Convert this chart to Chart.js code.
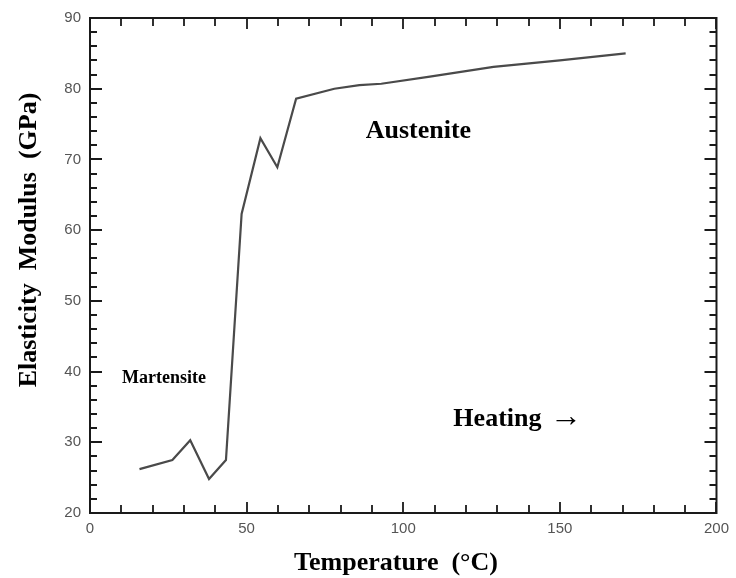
<!DOCTYPE html>
<html>
<head>
<meta charset="utf-8">
<script src="https://cdn.jsdelivr.net/npm/chart.js@4"></script>
<style>
  html, body { margin: 0; padding: 0; background: #fff; }
  #wrap { width: 736px; height: 578px; }
</style>
</head>
<body>
<div id="wrap"><canvas id="graf" width="736" height="578"></canvas></div>
<script>
// data
const temps = [15.8, 26.3, 32, 38, 43.4, 48.4, 54.4, 59.8, 65.8, 78, 86, 93, 108.5, 128.8, 150, 171];
const modulus = [26.2, 27.5, 30.3, 24.8, 27.5, 62.3, 73, 68.9, 78.6, 80, 80.5, 80.7, 81.7, 83.1, 84, 85];
const xTicks = [0, 50, 100, 150, 200];
const yTicks = [20, 30, 40, 50, 60, 70, 80, 90];
const labels = [
  { text: "Austenite", x: 88, y: 73.1, size: 26 },
  { text: "Martensite", x: 10.2, y: 38.4, size: 18 },
  { text: "Heating", x: 116, y: 32.3, size: 26 },
  { text: "\u2192", x: 146.8, y: 32.3, size: 32 }
];
const xTitle = "Temperature  (\u00B0C)";
const yTitle = "Elasticity  Modulus  (GPa)";

const serif = "'Liberation Serif', 'Times New Roman', serif";

const frameTicks = {
  id: "frameTicks",
  afterDraw(chart) {
    const ctx = chart.ctx;
    const a = chart.chartArea;
    const xs = chart.scales.x;
    const ys = chart.scales.y;
    ctx.save();
    ctx.strokeStyle = "#1a1a1a";
    ctx.lineWidth = 2;
    ctx.strokeRect(a.left, a.top, a.right - a.left, a.bottom - a.top);

    ctx.lineWidth = 1.8;
    ctx.beginPath();
    for (let v = 0; v <= 200; v += 10) {
      const px = Math.round(xs.getPixelForValue(v));
      const len = xTicks.includes(v) ? 11 : 8;
      ctx.moveTo(px, a.bottom); ctx.lineTo(px, a.bottom - len);
      ctx.moveTo(px, a.top); ctx.lineTo(px, a.top + len);
    }
    for (let v = 20; v <= 90; v += 2) {
      const py = Math.round(ys.getPixelForValue(v));
      const len = yTicks.includes(v) ? 12 : 7;
      ctx.moveTo(a.left, py); ctx.lineTo(a.left + len, py);
      ctx.moveTo(a.right, py); ctx.lineTo(a.right - len, py);
    }
    ctx.stroke();

    // labels in the plot
    ctx.fillStyle = "#000";
    ctx.textBaseline = "alphabetic";
    ctx.textAlign = "left";
    labels.forEach(l => {
      ctx.font = "bold " + l.size + "px " + serif;
      ctx.fillText(l.text, xs.getPixelForValue(l.x), ys.getPixelForValue(l.y));
    });

    // axis titles
    ctx.font = "bold 26px " + serif;
    ctx.textAlign = "center";
    ctx.fillText(xTitle, 396, 570);
    ctx.save();
    ctx.translate(36, 240);
    ctx.rotate(-Math.PI / 2);
    ctx.fillText(yTitle, 0, 0);
    ctx.restore();
    ctx.restore();
  }
};

const tickFont = { family: "'Liberation Sans', Arial, sans-serif", size: 15 };

new Chart(document.getElementById("graf"), {
  type: "scatter",
  data: {
    datasets: [{
      data: temps.map((t, i) => ({ x: t, y: modulus[i] })),
      showLine: true,
      borderColor: "#4a4a4a",
      borderWidth: 2.2,
      pointRadius: 0,
      tension: 0
    }]
  },
  options: {
    responsive: false,
    animation: false,
    layout: { padding: { top: 16, right: 14, left: 0, bottom: 0 } },
    plugins: { legend: { display: false }, tooltip: { enabled: false } },
    scales: {
      x: {
        type: "linear",
        min: 0,
        max: 200,
        afterFit(scale) { scale.height = 65; },
        afterBuildTicks(scale) { scale.ticks = xTicks.map(v => ({ value: v })); },
        ticks: { font: tickFont, color: "#555", padding: 7, maxRotation: 0 },
        grid: { display: false, drawTicks: false },
        border: { display: false }
      },
      y: {
        type: "linear",
        min: 20,
        max: 90,
        afterFit(scale) { scale.width = 90; },
        afterBuildTicks(scale) { scale.ticks = yTicks.map(v => ({ value: v })); },
        ticks: { font: tickFont, color: "#555", padding: 9 },
        grid: { display: false, drawTicks: false },
        border: { display: false }
      }
    }
  },
  plugins: [frameTicks]
});
</script>
</body>
</html>
